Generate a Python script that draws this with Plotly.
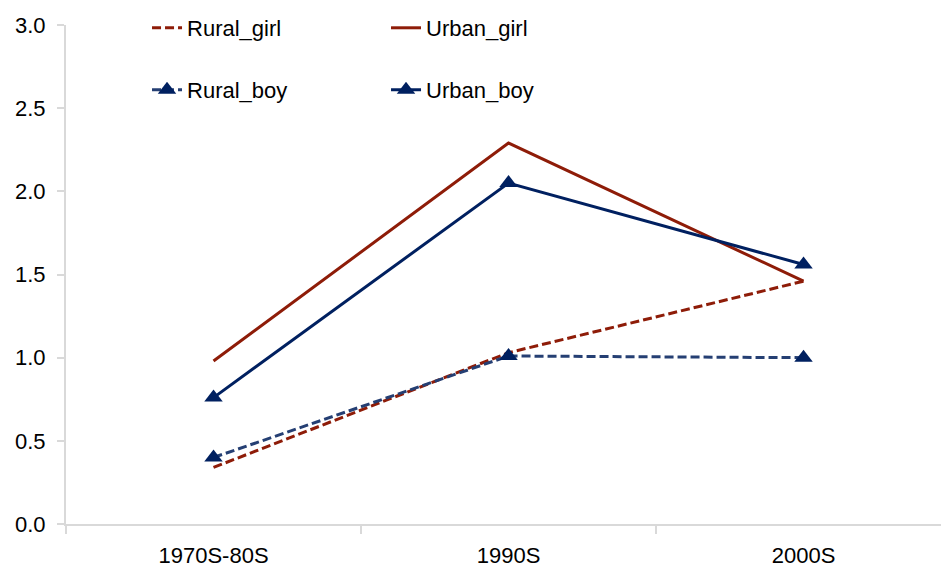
import plotly.graph_objects as go

categories = ["1970S-80S", "1990S", "2000S"]
rural_girl = [0.34, 1.03, 1.46]
urban_girl = [0.98, 2.29, 1.46]
rural_boy = [0.40, 1.01, 1.00]
urban_boy = [0.76, 2.05, 1.56]
y_ticks = [0.0, 0.5, 1.0, 1.5, 2.0, 2.5, 3.0]
y_tick_labels = ["0.0", "0.5", "1.0", "1.5", "2.0", "2.5", "3.0"]

RED = "#8E1C08"
NAVY = "#002060"
BLUE_DASH = "#253F73"

fig = go.Figure()
fig.add_trace(go.Scatter(x=categories, y=rural_girl, name="Rural_girl", mode="lines",
                         line=dict(color=RED, width=3, dash="9px,4px"), legend="legend"))
fig.add_trace(go.Scatter(x=categories, y=urban_girl, name="Urban_girl", mode="lines",
                         line=dict(color=RED, width=3), legend="legend"))
fig.add_trace(go.Scatter(x=categories, y=rural_boy, name="Rural_boy", mode="lines+markers",
                         line=dict(color=BLUE_DASH, width=3, dash="9px,4px"),
                         marker=dict(symbol="triangle-up", size=16, color=NAVY), legend="legend2"))
fig.add_trace(go.Scatter(x=categories, y=urban_boy, name="Urban_boy", mode="lines+markers",
                         line=dict(color=NAVY, width=3),
                         marker=dict(symbol="triangle-up", size=16, color=NAVY), legend="legend2"))

font = dict(family="Liberation Sans, Arial, sans-serif", size=22, color="#000000")

fig.update_layout(
    width=941, height=567,
    margin=dict(l=66, r=0, t=25, b=43),
    paper_bgcolor="white", plot_bgcolor="white",
    font=font,
    legend=dict(orientation="h", x=0.0926, y=0.994,
                xanchor="left", yanchor="middle",
                entrywidth=194, entrywidthmode="pixels", font=font,
                bgcolor="rgba(0,0,0,0)", traceorder="normal"),
    legend2=dict(orientation="h", x=0.0926, y=0.870,
                 xanchor="left", yanchor="middle",
                 entrywidth=194, entrywidthmode="pixels", font=font,
                 bgcolor="rgba(0,0,0,0)", traceorder="normal"),
    xaxis=dict(type="category", range=[-0.5, 2.466], showline=True, linecolor="#D9D9D9",
               linewidth=2, ticks="outside", tickson="boundaries", ticklen=8,
               tickcolor="#D9D9D9", tickwidth=2, showgrid=False, zeroline=False,
               automargin=False,
               tickfont=dict(family="Liberation Sans, Arial, sans-serif", size=22, color="#000"),
               ticklabelstandoff=11),
    yaxis=dict(range=[0, 3.0], tickvals=y_ticks, ticktext=y_tick_labels, showline=True,
               linecolor="#D9D9D9", linewidth=2, ticks="outside", ticklen=7,
               tickcolor="#D9D9D9", tickwidth=2, showgrid=False, zeroline=False,
               automargin=False,
               tickfont=dict(family="Liberation Sans, Arial, sans-serif", size=22, color="#000"),
               ticklabelstandoff=7),
)

fig.write_html(
    "out.html",
    config={"displayModeBar": False},
    post_script="document.body.style.margin='0';document.body.style.overflow='hidden';",
)
